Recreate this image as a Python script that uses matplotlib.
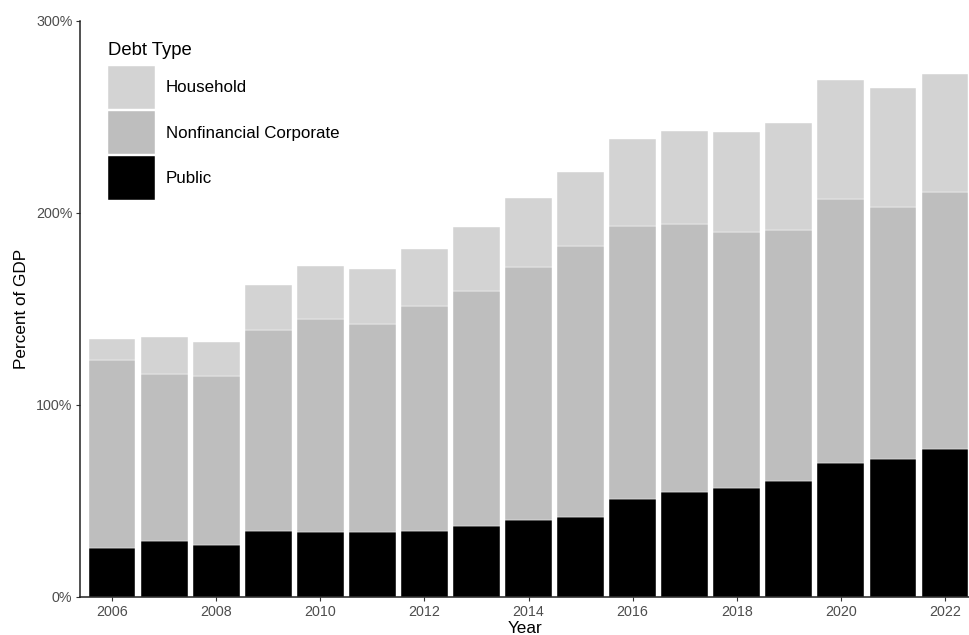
import matplotlib
matplotlib.use("Agg")
import matplotlib.pyplot as plt
from matplotlib.ticker import FuncFormatter

plt.rcParams['font.family'] = ['Liberation Sans', 'DejaVu Sans']

years = list(range(2006, 2023))
public = [25.5, 29.4, 27.3, 34.6, 34.0, 33.7, 34.6, 37.2, 39.9, 41.7, 50.8, 54.8, 56.5, 60.3, 70.0, 71.8, 77.0]
corporate = [97.9, 86.6, 87.8, 104.3, 110.5, 108.5, 116.8, 121.9, 131.8, 140.8, 142.4, 139.3, 133.4, 130.7, 137.1, 131.1, 133.7]
household = [11.0, 19.1, 17.9, 23.4, 27.9, 28.3, 29.9, 33.3, 35.8, 38.9, 45.3, 48.4, 52.3, 55.9, 61.8, 62.1, 61.6]

series_names = ["Household", "Nonfinancial Corporate", "Public"]
colors = {"Household": "#d3d3d3", "Nonfinancial Corporate": "#bebebe", "Public": "#000000"}

W, H = 970, 635
fig = plt.figure(figsize=(W / 100, H / 100), dpi=100)
ax = fig.add_axes([80 / W, 1 - 597 / H, 890 / W, (597 - 20.7) / H])

bottom_corp = public
bottom_hh = [p + c for p, c in zip(public, corporate)]
ax.bar(years, public, width=0.9, color=colors["Public"], edgecolor="white", linewidth=0.3, label="Public")
ax.bar(years, corporate, width=0.9, bottom=bottom_corp, color=colors["Nonfinancial Corporate"],
       edgecolor="white", linewidth=0.3, label="Nonfinancial Corporate")
ax.bar(years, household, width=0.9, bottom=bottom_hh, color=colors["Household"],
       edgecolor="white", linewidth=0.3, label="Household")

ax.set_xlim(2005.385, 2022.48)
ax.set_ylim(0, 300)
ax.set_yticks([0, 100, 200, 300])
ax.yaxis.set_major_formatter(FuncFormatter(lambda v, p: f"{int(v)}%"))
ax.set_xticks([2006, 2008, 2010, 2012, 2014, 2016, 2018, 2020, 2022])

for s in ["top", "right"]:
    ax.spines[s].set_visible(False)
for s in ["left", "bottom"]:
    ax.spines[s].set_color("#222222")
    ax.spines[s].set_linewidth(1.1)
ax.tick_params(axis="both", colors="#333333", labelcolor="#4d4d4d", labelsize=10.3,
               length=3.2, width=0.8, pad=2.2)

ax.set_xlabel("Year", fontsize=12.3, labelpad=1.5, color="black")
ax.set_ylabel("Percent of GDP", fontsize=12.3, labelpad=5, color="black")

handles, labels = ax.get_legend_handles_labels()
order = [labels.index(n) for n in series_names]
leg = ax.legend([handles[i] for i in order], [labels[i] for i in order],
                title="Debt Type", loc="upper left",
                bbox_to_anchor=(108 / W, 1 - 42 / H), bbox_transform=fig.transFigure,
                frameon=False, fontsize=12.2, title_fontsize=13.3,
                handlelength=2.78, handleheight=3.54, labelspacing=0.12,
                handletextpad=0.65, borderaxespad=0, borderpad=0)
leg._legend_box.align = "left"
leg._legend_box.sep = 5.1

fig.savefig("out.png", dpi=100)
